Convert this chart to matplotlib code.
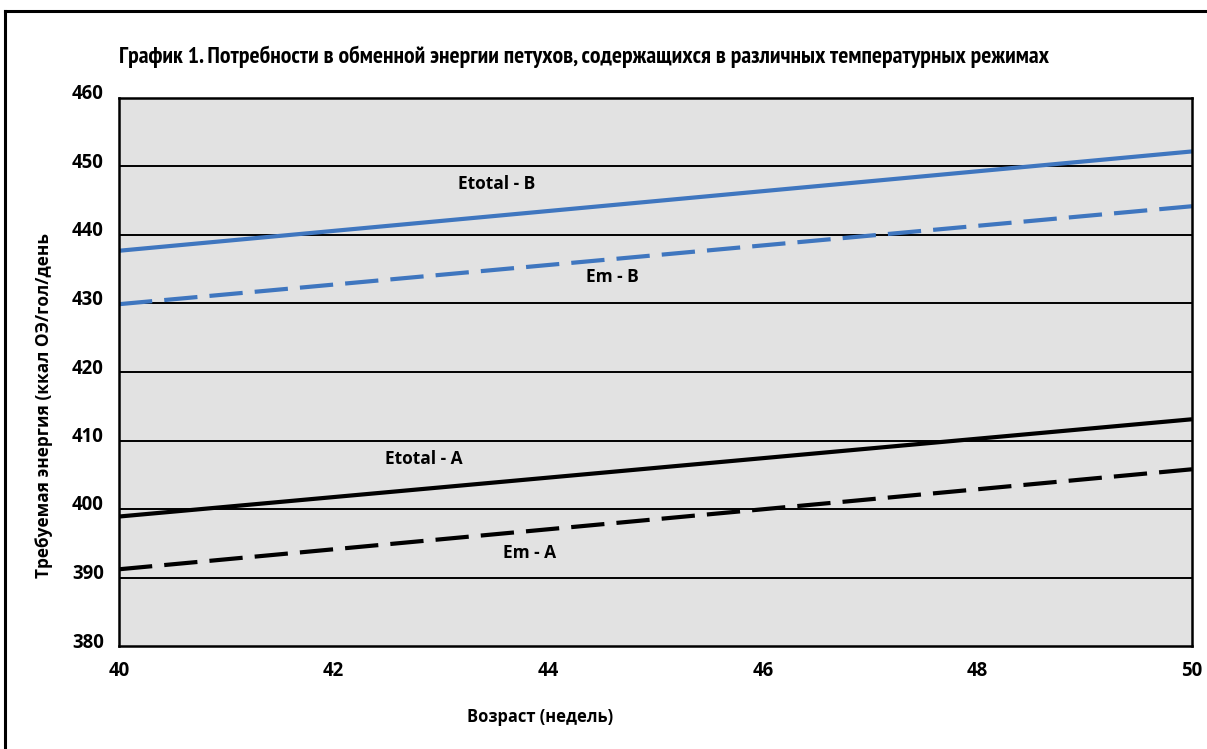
import matplotlib
matplotlib.use("Agg")
import matplotlib.pyplot as plt
import matplotlib.transforms as mtransforms
from matplotlib import font_manager
from matplotlib.font_manager import FontProperties

# ---- data ----
weeks = [40, 50]
etotal_b = [437.7, 452.2]
em_b = [429.9, 444.2]
etotal_a = [398.9, 413.1]
em_a = [391.2, 405.8]
y_ticks = [380, 390, 400, 410, 420, 430, 440, 450, 460]
x_ticks = [40, 42, 44, 46, 48, 50]
grid_levels = [390, 400, 410, 420, 430, 440, 450]
labels = ["Etotal - B", "Em - B", "Etotal - A", "Em - A"]
label_pos = [(43.52, 447.4), (44.6, 433.9), (42.84, 407.3), (43.83, 393.6)]

title = "График 1. Потребности в обменной энергии петухов, содержащихся в различных температурных режимах"
ylabel = "Требуемая энергия (ккал ОЭ/гол/день"
xlabel = "Возраст (недель)"


def find_font(basenames, fallback_family):
    files = {f.fname.split("/")[-1]: f.fname for f in font_manager.fontManager.ttflist}
    for b in basenames:
        if b in files:
            return FontProperties(fname=files[b])
    return FontProperties(family=fallback_family, weight="bold")


fp_main = find_font(["OpenSans-Bold.ttf", "NotoSans-Bold.ttf"], "DejaVu Sans")
fp_title = find_font(["PTSansNarrow-Bold.ttf", "PT_Sans-Narrow-Web-Bold.ttf",
                      "RobotoCondensed-Bold.ttf", "OpenSans-CondBold.ttf"], "DejaVu Sans")

W, H = 1207, 749
fig = plt.figure(figsize=(W / 100, H / 100), dpi=100)
fig.patch.set_facecolor("white")

L, R, T, B = 119, 1192, 98, 646
ax = fig.add_axes([L / W, 1 - B / H, (R - L) / W, (B - T) / H])
ax.set_facecolor("#e2e2e2")
ax.set_xlim(40, 50)
ax.set_ylim(380, 460)

for lv in grid_levels:
    ax.axhline(lv, color="black", lw=1.4, zorder=1)

blue = "#3f76bf"
ax.plot(weeks, etotal_b, color=blue, lw=3.0, solid_capstyle="butt", zorder=3)
ax.plot(weeks, em_b, color=blue, lw=3.0, dashes=(8, 2.9), zorder=3)
ax.plot(weeks, etotal_a, color="black", lw=3.0, solid_capstyle="butt", zorder=3)
ax.plot(weeks, em_a, color="black", lw=3.0, dashes=(8, 2.9), zorder=3)

ann = []
for txt, (x, y) in zip(labels, label_pos):
    t = ax.text(x, y, txt, ha="center", va="center", fontproperties=fp_main, zorder=4)
    t.set_fontsize(11.5)
    ann.append(t)

for s in ax.spines.values():
    s.set_linewidth(1.8)
    s.set_color("black")
    s.set_zorder(5)

ax.set_xticks(x_ticks)
ax.set_yticks(y_ticks)
ax.tick_params(length=0, pad=11)
ticklabs = ax.get_xticklabels() + ax.get_yticklabels()
for lab in ticklabs:
    lab.set_fontproperties(fp_main)
    lab.set_fontsize(11.5)
off = mtransforms.ScaledTranslation(0, 6 / 100, fig.dpi_scale_trans)
for lab in ax.get_yticklabels():
    lab.set_transform(lab.get_transform() + off)

t_title = fig.text(L / W, 1 - 57 / H, title, ha="left", va="center", fontproperties=fp_title)
t_title.set_fontsize(13)
t_y = fig.text(44 / W, 1 - 405 / H, ylabel, ha="center", va="center", rotation=90,
               fontproperties=fp_main)
t_y.set_fontsize(11.5)
t_x = fig.text(540 / W, 1 - 717 / H, xlabel, ha="center", va="center", fontproperties=fp_main)
t_x.set_fontsize(11.5)

# size texts to the reference's measured extents
fig.canvas.draw()
rend = fig.canvas.get_renderer()


def scale_for(t, target, horizontal=True):
    bb = t.get_window_extent(rend)
    cur = bb.width if horizontal else bb.height
    return target / cur


t_title.set_fontsize(t_title.get_fontsize() * scale_for(t_title, 931))
t_y.set_fontsize(t_y.get_fontsize() * scale_for(t_y, 347, horizontal=False))
t_x.set_fontsize(t_x.get_fontsize() * scale_for(t_x, 147))
a_size = ann[0].get_fontsize() * scale_for(ann[0], 78)
for a in ann:
    a.set_fontsize(a_size)
ref_tick = ax.get_yticklabels()[-1]  # "460"
tick_size = ref_tick.get_fontsize() * scale_for(ref_tick, 32)
ax.tick_params(labelsize=tick_size)
for lab in ax.get_xticklabels() + ax.get_yticklabels():
    lab.set_fontsize(tick_size)

# outer frame
fig.add_artist(plt.Line2D([5 / W, 5 / W], [0, 1 - 11 / H], color="black", lw=2.2,
                          transform=fig.transFigure))
fig.add_artist(plt.Line2D([5 / W, 1], [1 - 11 / H, 1 - 11 / H], color="black", lw=2.2,
                          transform=fig.transFigure))

fig.savefig("out.png", dpi=100)
